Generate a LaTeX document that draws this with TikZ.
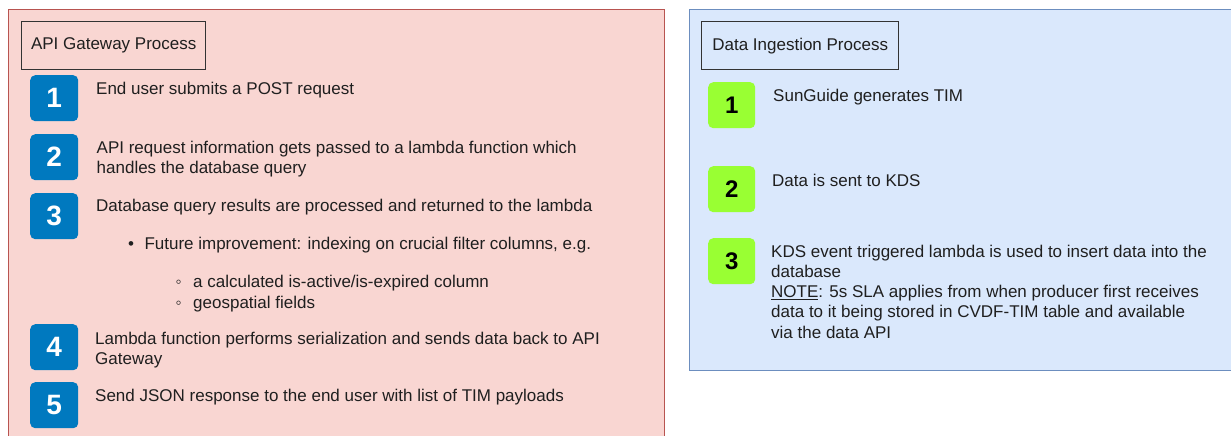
\documentclass[tikz,border=0pt]{standalone}
\usepackage{fontspec}
\setmainfont{Liberation Sans}
\usetikzlibrary{positioning}
\definecolor{apifill}{HTML}{F9D6D2}
\definecolor{apiline}{HTML}{B85450}
\definecolor{ingfill}{HTML}{DAE8FC}
\definecolor{ingline}{HTML}{6C8EBF}
\definecolor{stepblue}{HTML}{0079BF}
\definecolor{steplime}{HTML}{99FF33}
\definecolor{textdark}{HTML}{1F1F1F}

\begin{document}
\begin{tikzpicture}[x=1pt,y=-1pt,
			panel/.style={rectangle, anchor=north west, line width=1.2pt, inner sep=0},
			titlebox/.style={rectangle, draw=black!80, line width=1.4pt, anchor=north west, minimum height=48pt, inner sep=0, font=\fontsize{17}{20}\selectfont, text=textdark},
			bluebadge/.style={rectangle, rounded corners=5pt, fill=stepblue, anchor=north west, minimum width=48pt, minimum height=46pt, inner sep=0, text=white, font=\fontsize{28}{28}\selectfont\bfseries},
			limebadge/.style={rectangle, rounded corners=5pt, fill=steplime, anchor=north west, minimum width=47pt, minimum height=46pt, inner sep=0, text=black, font=\fontsize{24}{24}\selectfont\bfseries},
			steptext/.style={anchor=base west, inner sep=0, align=left, text=textdark, font=\fontsize{17}{20.2}\selectfont},
			longtext/.style={steptext, anchor=north west}
			]
			\useasboundingbox (0,0) rectangle (1231,436);
			\clip (0,0) rectangle (1231,436);
			
			% the two process panels
			\node[panel, draw=apiline, fill=apifill, minimum width=656pt, minimum height=440pt] (apipanel) at (8,9) {};
			\node[panel, draw=ingline, fill=ingfill, minimum width=560pt, minimum height=361pt] (ingpanel) at (689,9) {};
			
			\node[titlebox, minimum width=184pt] (apititle) at (21,21) {API Gateway Process};
			\node[titlebox, minimum width=197pt] (ingtitle) at (701,21) {Data Ingestion Process};
			
			% API Gateway steps
			\node[bluebadge] (A1) at (30,75) {1};
			\node[bluebadge] (A2) at (30,134) {2};
			\node[bluebadge] (A3) at (30,193) {3};
			\node[bluebadge] (A4) at (30,324) {4};
			\node[bluebadge] (A5) at (30,382) {5};
			
			\node[steptext] (T1) at (96,94) {End user submits a POST request};
			\node[longtext] (T2) at (96.5,140.6) {API request information gets passed to a lambda function which\\handles the database query};
			\node[steptext] (T3) at (96,211.5) {Database query results are processed and returned to the lambda};
			\node[steptext] (B1) at (127.8,249.5) {•};
			\node[steptext] (T3a) at (144.3,249.5) {Future improvement: indexing on crucial filter columns, e.g.};
			\node[steptext] (B2) at (175.5,287.5) {◦};
			\node[steptext] (T3b) at (193,287.5) {a calculated is-active/is-expired column};
			\node[steptext] (B3) at (175.5,308) {◦};
			\node[steptext] (T3c) at (193,308) {geospatial fields};
			\node[longtext] (T4) at (95,332.2) {Lambda function performs serialization and sends data back to API\\Gateway};
			\node[steptext] (T5) at (95,401.5) {Send JSON response to the end user with list of TIM payloads};
			
			% Data Ingestion steps
			\node[limebadge] (D1) at (708,82) {1};
			\node[limebadge] (D2) at (708,166) {2};
			\node[limebadge] (D3) at (708,238) {3};
			
			\node[steptext] (U1) at (773,101.5) {SunGuide generates TIM};
			\node[steptext] (U2) at (772,186) {Data is sent to KDS};
			\node[longtext] (U3) at (771,244.7) {KDS event triggered lambda is used to insert data into the\\database\\\underline{NOTE}: 5s SLA applies from when producer first receives\\data to it being stored in CVDF-TIM table and available\\via the data API};
		\end{tikzpicture}
\end{document}
